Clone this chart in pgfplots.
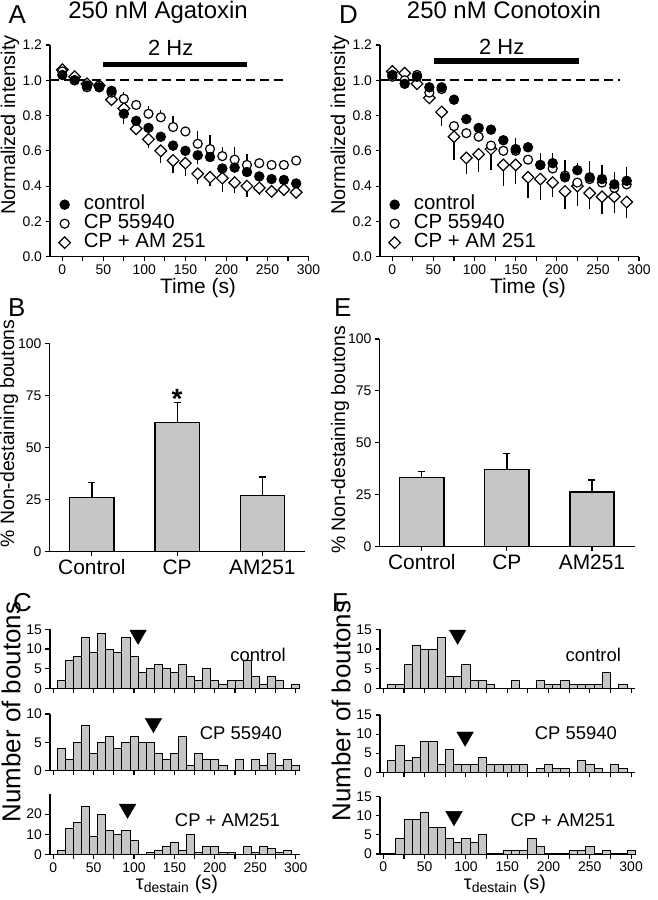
\documentclass[border=0pt]{standalone}
\usepackage{fontspec}
\setmainfont{Liberation Sans}
\usepackage{pgfplots}
\pgfplotsset{compat=1.18}
\definecolor{barfill}{RGB}{198,198,198}
\newcommand\fs[1]{\fontsize{#1}{#1}\selectfont}

\pgfplotsset{
  gp/.style={
    scale only axis, anchor=south west, clip=false,
    axis x line*=bottom, axis y line*=left,
    axis line style={line width=1.3bp},
    tick pos=left, tick align=outside,
    major tick length=4.5bp,
    every tick/.style={black, line width=1.1bp},
    tick label style={font=\fs{14}},
    /pgf/number format/assume math mode=true,
  },
  timecourse/.style={gp, ymin=0, ymax=1.2, xmin=-15, xmax=300,
    width=258.5bp, height=211.7bp,
    xtick={0,25,...,300}, xticklabels={0,,50,,100,,150,,200,,250,,300},
    ytick={0,0.2,0.4,0.6,0.8,1.0,1.2},
    yticklabel style={/pgf/number format/fixed, /pgf/number format/fixed zerofill,
      /pgf/number format/precision=1},
    legend cell align=left, reverse legend,
    legend style={draw=none, fill=none, inner sep=0pt, anchor=north west, at={(0.028,0.288)},
      font=\fs{20.5}, row sep=1.5bp, column sep=12bp,
      nodes={inner sep=0pt, text height=13.5bp, text depth=4bp}},
    legend image code/.code={\draw[##1] plot coordinates {(0bp,0bp)}; \path (-7bp,0bp) (7bp,0bp);},
  },
  ctl/.style={only marks, mark=*, mark size=4.7bp, black,
    mark options={fill=black, draw=black, line width=1bp},
    error bars/y explicit, error bars/error mark=none,
    error bars/error bar style={line width=1.2bp, black}},
  cpo/.style={only marks, mark=*, mark size=4.5bp, black,
    mark options={fill=white, draw=black, line width=1.2bp},
    error bars/y explicit, error bars/error mark=none,
    error bars/error bar style={line width=1.2bp, black}},
  amd/.style={only marks, mark=square*, mark size=4.1bp, black,
    mark options={rotate=45, fill=white, draw=black, line width=1.2bp},
    error bars/y explicit, error bars/error mark=none,
    error bars/error bar style={line width=1.2bp, black}},
  barchart/.style={gp, xmin=-0.5, xmax=2.5, ymin=0, ymax=100,
    xtick={0,1,2}, xticklabels={Control,CP,AM251},
    xticklabel style={font=\fs{21}}, ytick={0,25,50,75,100}},
  mbar/.style={ybar, bar width=0.52, bar shift=0pt, fill=barfill, draw=black, line width=1.3bp,
    error bars/y dir=plus, error bars/y explicit,
    error bars/error bar style={line width=1.3bp, black},
    error bars/error mark options={rotate=90, mark size=3.5bp, line width=1.3bp, black}},
  hist/.style={gp, xmin=-4, ymin=0, xtick={0,25,...,300},
    xticklabels={,,,,,,,,,,,,}},
  hbar/.style={ybar, bar width=10, bar shift=0pt, fill=barfill, draw=black, line width=0.9bp},
  med/.style={only marks, mark=triangle*, mark size=9.6bp,
    mark options={rotate=180, fill=black, draw=black}},
}

\begin{document}
\begin{tikzpicture}
\useasboundingbox (0bp,0bp) rectangle (658bp,900bp);

%% ---------- A: Agatoxin time course
\begin{axis}[timecourse, at={(50bp,643.3bp)}]
\draw[line width=5.5bp] (axis cs:50,1.09) -- (axis cs:225,1.09);
\draw[line width=1.6bp, dash pattern=on 9bp off 5bp] (axis cs:-15,1) -- (axis cs:274,1);
\addplot[amd, error bars/y dir=minus] table[x=t, y=v, y error=e] {
t v e
0 1.06 0
15 1.02 0
30 0.98 0
45 0.97 0
60 0.89 0
75 0.84 0.03
90 0.725 0.03
105 0.665 0.05
120 0.60 0.07
135 0.545 0.07
150 0.53 0.075
165 0.47 0.06
180 0.45 0.05
195 0.445 0.08
210 0.42 0.06
225 0.40 0.06
240 0.39 0.04
255 0.37 0.03
270 0.38 0.03
285 0.365 0.02
};
\addlegendentry{CP + AM 251}
\addplot[cpo, error bars/y dir=plus] table[x=t, y=v, y error=e] {
t v e
0 1.05 0
15 1.00 0
30 0.96 0
45 0.97 0
60 0.93 0
75 0.895 0.04
90 0.86 0.03
105 0.81 0.045
120 0.79 0.04
135 0.735 0.06
150 0.71 0.02
165 0.64 0.07
180 0.61 0.08
195 0.57 0.05
210 0.55 0.07
225 0.52 0.06
240 0.53 0.02
255 0.52 0.02
270 0.52 0.02
285 0.545 0.01
};
\addlegendentry{CP 55940}
\addplot[ctl, error bars/y dir=minus] table[x=t, y=v, y error=e] {
t v e
0 1.03 0
15 1.00 0
30 0.97 0
45 0.96 0
60 0.94 0.01
75 0.81 0.06
90 0.77 0.03
105 0.73 0.03
120 0.68 0.03
135 0.63 0.03
150 0.60 0.03
165 0.575 0.05
180 0.565 0.03
195 0.50 0.03
210 0.505 0.03
225 0.48 0.03
240 0.455 0.02
255 0.44 0.02
270 0.435 0.02
285 0.415 0.02
};
\addlegendentry{control}
\end{axis}

%% ---------- D: Conotoxin time course
\begin{axis}[timecourse, at={(380bp,643.3bp)}, width=259bp]
\draw[line width=5.5bp] (axis cs:51,1.11) -- (axis cs:227,1.11);
\draw[line width=1.6bp, dash pattern=on 9bp off 5bp] (axis cs:-15,1) -- (axis cs:277,1);
\addplot[amd, error bars/y dir=minus] table[x=t, y=v, y error=e] {
t v e
0 1.05 0
15 1.04 0
30 0.98 0
45 0.90 0.02
60 0.82 0.08
75 0.68 0.13
90 0.56 0.09
105 0.58 0.10
120 0.61 0.12
135 0.52 0.12
150 0.52 0.11
165 0.45 0.12
180 0.44 0.12
195 0.42 0.08
210 0.37 0.10
225 0.40 0.10
240 0.36 0.09
255 0.34 0.10
270 0.34 0.09
285 0.31 0.09
};
\addlegendentry{CP + AM 251}
\addplot[cpo, error bars/y dir=minus] table[x=t, y=v, y error=e] {
t v e
0 1.02 0
15 1.00 0
30 1.03 0
45 0.93 0
60 0.95 0
75 0.74 0.03
90 0.70 0.02
105 0.68 0.02
120 0.63 0.02
135 0.60 0.02
150 0.60 0.02
165 0.55 0.02
180 0.52 0.02
195 0.50 0.02
210 0.46 0.02
225 0.42 0.13
240 0.44 0.02
255 0.42 0.02
270 0.39 0.02
285 0.41 0.02
};
\addlegendentry{CP 55940}
\addplot[ctl, error bars/y dir=plus] table[x=t, y=v, y error=e] {
t v e
0 1.03 0
15 0.98 0
30 1.02 0
45 0.96 0
60 0.96 0
75 0.89 0.02
90 0.78 0.03
105 0.73 0.02
120 0.72 0.02
135 0.66 0.03
150 0.61 0.06
165 0.62 0.03
180 0.52 0.07
195 0.53 0.06
210 0.45 0.10
225 0.49 0.04
240 0.45 0.09
255 0.44 0.08
270 0.41 0.07
285 0.43 0.08
};
\addlegendentry{control}
\end{axis}

%% ---------- B and E: non-destaining boutons
\begin{axis}[barchart, at={(49.3bp,348.3bp)}, width=255.7bp, height=208.4bp]
\addplot[mbar] table[x=c, y=v, y error=e] {
c v e
0 26.1 7.0
1 61.9 9.8
2 26.9 8.9
};
\node[font=\bfseries\fs{28}, anchor=base, inner sep=0pt] at (axis cs:1,68.5) {*};
\end{axis}

\begin{axis}[barchart, at={(379.3bp,353.3bp)}, width=255.2bp, height=207.7bp]
\addplot[mbar] table[x=c, y=v, y error=e] {
c v e
0 33.2 2.9
1 37.2 7.8
2 26.3 5.8
};
\end{axis}

%% ---------- C: histograms (Agatoxin)
\begin{axis}[hist, at={(50bp,211.7bp)}, width=250.5bp, height=59bp, xmax=306,
  ymax=15, ytick={0,5,10,15}]
\addplot[hbar] coordinates {(10,2)(20,7)(30,8)(40,13)(50,9)(60,14)(70,10)(80,9)(90,13)(100,8)
  (110,4)(120,5)(130,6)(140,5)(150,4)(160,6)(170,3)(180,2)(190,5)(200,2)(210,1)(220,2)
  (230,2)(240,7)(250,3)(260,1)(270,3)(280,2)(300,1)};
\addplot[med] coordinates {(105,13.6)};
\end{axis}

\begin{axis}[hist, at={(50bp,129.3bp)}, width=250.5bp, height=56.7bp, xmax=306,
  ymax=10, ytick={0,5,10}]
\addplot[hbar] coordinates {(10,4)(20,2)(30,5)(40,8)(50,3)(60,5)(70,6)(80,4)(90,5)(100,6)
  (110,5)(120,5)(130,3)(140,2)(150,3)(160,6)(170,1)(180,3)(190,2)(200,2)(210,1)(230,2)
  (250,2)(260,1)(270,3)(280,1)(290,2)(300,1)};
\addplot[med] coordinates {(124,8.4)};
\end{axis}

\begin{axis}[hist, at={(50bp,45.3bp)}, width=250.5bp, height=60.9bp, xmax=306,
  ymax=30, ytick={0,10,20}, xticklabels={0,,50,,100,,150,,200,,250,,300}]
\addplot[hbar] coordinates {(10,2)(20,13)(30,16)(40,24)(50,9)(60,20)(70,12)(80,10)(90,12)
  (100,7)(120,1)(130,2)(140,4)(150,6)(160,2)(170,10)(180,1)(190,4)(200,4)(210,1)(220,1)
  (240,4)(250,1)(260,4)(270,3)(280,1)(290,2)};
\addplot[med] coordinates {(92,22.6)};
\end{axis}

%% ---------- F: histograms (Conotoxin)
\begin{axis}[hist, at={(380bp,211.7bp)}, width=255bp, height=59bp, xmax=304.7,
  ymax=15, ytick={0,5,10,15}]
\addplot[hbar] coordinates {(10,1)(20,1)(30,6)(40,11)(50,10)(60,10)(70,13)(80,3)(90,3)
  (100,6)(110,2)(120,2)(130,1)(160,2)(190,2)(200,1)(210,1)(220,2)(230,1)(240,1)(250,1)
  (260,1)(270,4)(290,1)};
\addplot[med] coordinates {(90,13.6)};
\end{axis}

\begin{axis}[hist, at={(380bp,127.7bp)}, width=255bp, height=57.3bp, xmax=304.7,
  ymax=15, ytick={0,5,10,15}]
\addplot[hbar] coordinates {(10,3)(20,7)(30,3)(40,4)(50,8)(60,8)(70,2)(80,6)(90,2)(100,2)
  (110,2)(120,4)(130,2)(140,2)(150,2)(160,2)(170,2)(190,1)(200,2)(210,1)(220,1)(240,3)
  (250,2)(260,1)(280,2)(290,1)};
\addplot[med] coordinates {(99,9.3)};
\end{axis}

\begin{axis}[hist, at={(380bp,46bp)}, width=255bp, height=57.3bp, xmax=304.7,
  ymax=15, ytick={0,5,10,15}, xticklabels={0,,50,,100,,150,,200,,250,,300}]
\addplot[hbar] coordinates {(20,4)(30,9)(40,9)(50,11)(60,7)(70,7)(80,4)(90,3)(100,4)
  (110,3)(120,5)(150,1)(160,1)(170,1)(180,4)(190,2)(230,1)(240,1)(250,2)(270,1)(300,1)};
\addplot[med] coordinates {(85.6,9.9)};
\end{axis}

%% ---------- text
\node[font=\fs{26}, anchor=base west, inner sep=0pt] at (8.5bp,876.7bp) {A};
\node[font=\fs{26}, anchor=base west, inner sep=0pt] at (339bp,876.7bp) {D};
\node[font=\fs{26}, anchor=base west, inner sep=0pt] at (8bp,583bp) {B};
\node[font=\fs{26}, anchor=base west, inner sep=0pt] at (334bp,583bp) {E};
\node[font=\fs{26}, anchor=base west, inner sep=0pt] at (13bp,288.3bp) {C};
\node[font=\fs{26}, anchor=base west, inner sep=0pt] at (332bp,288.3bp) {F};

\node[font=\fs{24}, anchor=base, inner sep=0pt] at (158bp,881.7bp) {250 nM Agatoxin};
\node[font=\fs{24}, anchor=base, inner sep=0pt] at (504bp,881.7bp) {250 nM Conotoxin};
\node[font=\fs{22}, anchor=base, inner sep=0pt] at (170.7bp,844bp) {2 Hz};
\node[font=\fs{22}, anchor=base, inner sep=0pt] at (501.7bp,845bp) {2 Hz};

\node[font=\fs{20}, rotate=90, inner sep=0pt] at (10bp,775bp) {Normalized intensity};
\node[font=\fs{20}, rotate=90, inner sep=0pt] at (340bp,775bp) {Normalized intensity};
\node[font=\fs{21}, anchor=base, inner sep=0pt] at (198bp,606.5bp) {Time (s)};
\node[font=\fs{21}, anchor=base, inner sep=0pt] at (528bp,606.5bp) {Time (s)};

\node[font=\fs{19.5}, rotate=90, inner sep=0pt] at (9bp,466.5bp) {\% Non-destaining boutons};
\node[font=\fs{19.5}, rotate=90, inner sep=0pt] at (340bp,460bp) {\% Non-destaining boutons};

\node[font=\fs{26}, rotate=90, inner sep=0pt] at (11bp,188bp) {Number of boutons};
\node[font=\fs{26}, rotate=90, inner sep=0pt] at (341bp,189bp) {Number of boutons};

\node[font=\fs{18.5}, anchor=base, inner sep=0pt] at (258bp,238.3bp) {control};
\node[font=\fs{18.5}, anchor=base, inner sep=0pt] at (240.8bp,160bp) {CP 55940};
\node[font=\fs{18.5}, anchor=base, inner sep=0pt] at (227.5bp,73.3bp) {CP + AM251};
\node[font=\fs{18.5}, anchor=base, inner sep=0pt] at (593.3bp,238.3bp) {control};
\node[font=\fs{18.5}, anchor=base, inner sep=0pt] at (575.8bp,160bp) {CP 55940};
\node[font=\fs{18.5}, anchor=base, inner sep=0pt] at (563bp,73.3bp) {CP + AM251};

\node[font=\fs{20}, anchor=base, inner sep=0pt] at (177bp,10.5bp) {τ\textsubscript{destain} (s)};
\node[font=\fs{20}, anchor=base, inner sep=0pt] at (505bp,10.5bp) {τ\textsubscript{destain} (s)};
\end{tikzpicture}
\end{document}
